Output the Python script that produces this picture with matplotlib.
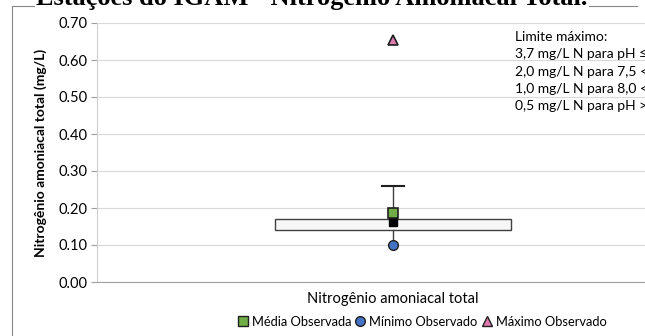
import matplotlib
matplotlib.use("Agg")
import matplotlib.pyplot as plt
from matplotlib.lines import Line2D

# summary stats
category = "Nitrogênio amoniacal total"
minimo = [0.10]
q1 = [0.14]
mediana = [0.163]
q3 = [0.17]
whisker_hi = [0.26]
media = [0.187]
maximo = [0.655]
yticks = [0.0, 0.1, 0.2, 0.3, 0.4, 0.5, 0.6, 0.7]
limites = ["Limite máximo:",
           "3,7 mg/L N para pH ≤ 7,5",
           "2,0 mg/L N para 7,5 < pH ≤ 8,0",
           "1,0 mg/L N para 8,0 < pH ≤ 8,5",
           "0,5 mg/L N para pH > 8,5"]
title = "Estações do IGAM - Nitrogênio Amoniacal Total."

plt.rcParams["font.family"] = ["Lato", "DejaVu Sans"]
W, H = 645, 336
fig = plt.figure(figsize=(W / 100, H / 100), dpi=100)

# outer chart frame
fig.add_artist(plt.Line2D([12 / W, 12 / W], [0, 1 - 6 / H], color="#888888", lw=0.8))
fig.add_artist(plt.Line2D([12 / W, 637 / W], [1 - 6 / H, 1 - 6 / H], color="#888888", lw=0.8))
fig.text(312 / W, 1 - 5 / H, title, ha="center", va="baseline",
         family="Liberation Serif", fontweight="bold", fontsize=19,
         bbox=dict(boxstyle="square,pad=0.05", fc="white", ec="none"))

ax = fig.add_axes([97 / W, (H - 282) / H, 592 / W, 259 / H])
ax.set_xlim(0.5, 1.5)
ax.set_ylim(0, 0.7)
ax.set_yticks(yticks)
ax.set_yticklabels([f"{v:.2f}" for v in yticks], fontsize=10.5)
ax.grid(axis="y", color="#d9d9d9", lw=0.8)
ax.set_axisbelow(True)
for s in ["top", "right"]:
    ax.spines[s].set_visible(False)
ax.spines["left"].set_color("#d0d0d0")
ax.spines["bottom"].set_color("#a0a0a0")
ax.tick_params(axis="y", length=4, color="#a0a0a0", pad=3)
ax.set_xticks([1.0])
ax.set_xticklabels([category], fontsize=10.5)
ax.tick_params(axis="x", length=0, pad=7)
ax.set_ylabel("Nitrogênio amoniacal total (mg/L)", fontsize=10, fontweight="bold", labelpad=8)

x = 1.0
bw = 0.4
ax.bar([x], [q3[0] - q1[0]], bottom=q1, width=bw, color="#f7f7f7",
       edgecolor="#404040", lw=1.0, zorder=2)
ax.plot([x, x], [q3[0], whisker_hi[0]], color="#404040", lw=1.0, zorder=2)
ax.plot([x, x], [minimo[0], q1[0]], color="#404040", lw=1.0, zorder=2)
ax.plot([x - 0.018, x + 0.018], [whisker_hi[0]] * 2, color="#202020", lw=1.5, zorder=2)
ax.plot([x], mediana, marker="s", ms=6, color="black", zorder=3)
ax.plot([x], media, marker="s", ms=7, color="#70ad47", mec="#1f1f1f", mew=1.2, zorder=4)
ax.plot([x], minimo, marker="o", ms=7, color="#4472c4", mec="#1f1f1f", mew=1.0, zorder=4)
ax.plot([x], maximo, marker="^", ms=7, color="#e07bb0", mec="#1f1f1f", mew=1.2, zorder=4)

for i, t in enumerate(limites):
    fig.text(515 / W, 1 - (37 + 17.3 * i) / H, t, ha="left", va="center", fontsize=10)

handles = [
    Line2D([], [], ls="", marker="s", ms=7, color="#70ad47", mec="#1f1f1f", mew=1.0),
    Line2D([], [], ls="", marker="o", ms=7, color="#4472c4", mec="#1f1f1f", mew=1.0),
    Line2D([], [], ls="", marker="^", ms=7, color="#e07bb0", mec="#1f1f1f", mew=1.0),
]
fig.legend(handles, ["Média Observada", "Mínimo Observado", "Máximo Observado"],
           loc="center", bbox_to_anchor=(422 / W, 1 - 322 / H), ncol=3, frameon=False,
           fontsize=9.3, handlelength=0.8, handletextpad=0.3, columnspacing=0.3,
           borderpad=0)

fig.savefig("out.png", dpi=100)
